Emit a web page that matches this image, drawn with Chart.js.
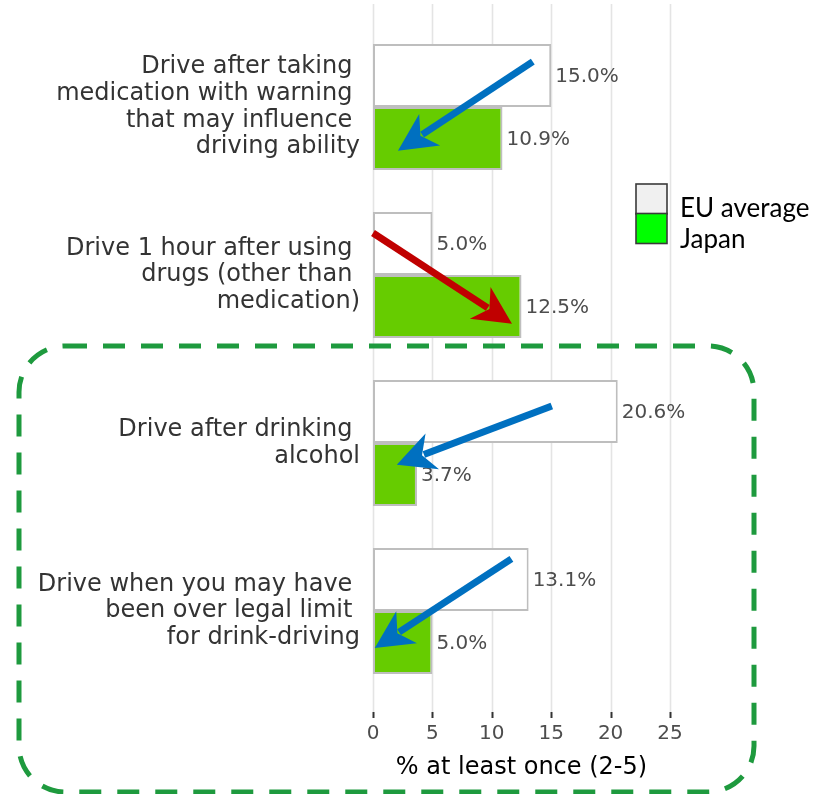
<!DOCTYPE html>
<html>
<head>
<meta charset="utf-8">
<script src="https://cdn.jsdelivr.net/npm/chart.js@4/dist/chart.umd.min.js"></script>
<style>
  html, body { margin: 0; padding: 0; background: #fff; }
  #wrap { width: 813px; height: 794px; }
</style>
</head>
<body>
<div id="wrap"><canvas id="chart" width="813" height="794"></canvas></div>
<script>
// categories, top to bottom (trailing spaces as in the original labels)
const categories = [
  ['Drive after taking ', 'medication with warning ', 'that may influence ', 'driving ability'],
  ['Drive 1 hour after using ', 'drugs (other than ', 'medication)'],
  ['Drive after drinking ', 'alcohol'],
  ['Drive when you may have ', 'been over legal limit ', 'for drink-driving']
];
const seriesNames = ['EU average', 'Japan'];
const euAverage = [15.0, 5.0, 20.6, 13.1];
const japan = [10.9, 12.5, 3.7, 5.0];
const xTicks = [0, 5, 10, 15, 20, 25];

// arrows over the bars, in data units: [x value, category position]
const arrowFrom = [[13.45, -0.27], [0.0, 0.75], [15.05, 1.78], [11.65, 2.69]];
const arrowTo = [[2.1, 0.26], [11.7, 1.29], [2.0, 2.13], [0.15, 3.22]];
const arrowColors = ['#0070c0', '#c00000', '#0070c0', '#0070c0'];

const legendFill = ['#f0f0f0', '#00ff00'];

const gridLines = {
  id: 'gridLines',
  beforeDatasetsDraw(chart) {
    const { ctx, chartArea, scales: { x } } = chart;
    ctx.save();
    x.ticks.forEach(t => {
      const px = Math.round(x.getPixelForValue(t.value)) + 0.5;
      ctx.strokeStyle = '#e4e4e4';
      ctx.lineWidth = 1.6;
      ctx.beginPath();
      ctx.moveTo(px, 4);
      ctx.lineTo(px, chartArea.bottom + 17);
      ctx.stroke();
      ctx.strokeStyle = '#333';
      ctx.lineWidth = 2;
      ctx.beginPath();
      ctx.moveTo(px, chartArea.bottom + 17);
      ctx.lineTo(px, chartArea.bottom + 23);
      ctx.stroke();
    });
    ctx.restore();
  }
};

const valueLabels = {
  id: 'valueLabels',
  afterDatasetsDraw(chart) {
    const { ctx } = chart;
    ctx.save();
    ctx.font = '20px "DejaVu Sans"';
    ctx.fillStyle = '#4d4d4d';
    ctx.textAlign = 'left';
    ctx.textBaseline = 'middle';
    chart.data.datasets.forEach((ds, i) => {
      chart.getDatasetMeta(i).data.forEach((bar, j) => {
        ctx.fillText(ds.data[j].toFixed(1) + '%', bar.x + 4, bar.y + 1.5);
      });
    });
    ctx.restore();
  }
};

function drawArrow(ctx, x1, y1, x2, y2, color) {
  const dx = x2 - x1, dy = y2 - y1;
  const len = Math.hypot(dx, dy);
  const ux = dx / len, uy = dy / len;
  const nx = -uy, ny = ux;
  const back = 38, notch = 27, half = 19;
  ctx.strokeStyle = color;
  ctx.fillStyle = color;
  ctx.lineWidth = 7;
  ctx.lineCap = 'butt';
  ctx.beginPath();
  ctx.moveTo(x1, y1);
  ctx.lineTo(x2 - ux * (notch + 2), y2 - uy * (notch + 2));
  ctx.stroke();
  ctx.beginPath();
  ctx.moveTo(x2, y2);
  ctx.lineTo(x2 - ux * back + nx * half, y2 - uy * back + ny * half);
  ctx.lineTo(x2 - ux * notch, y2 - uy * notch);
  ctx.lineTo(x2 - ux * back - nx * half, y2 - uy * back - ny * half);
  ctx.closePath();
  ctx.fill();
}

const overlay = {
  id: 'overlay',
  afterDraw(chart) {
    const { ctx, scales: { x, y } } = chart;
    ctx.save();
    arrowFrom.forEach((a, i) => {
      const b = arrowTo[i];
      drawArrow(ctx, x.getPixelForValue(a[0]), y.getPixelForValue(a[1]),
        x.getPixelForValue(b[0]), y.getPixelForValue(b[1]), arrowColors[i]);
    });

    // dashed highlight box round the alcohol rows
    ctx.strokeStyle = '#1e9a3e';
    ctx.lineWidth = 5;
    ctx.setLineDash([22, 16]);
    ctx.beginPath();
    ctx.roundRect(19, 346, 735, 446, 46);
    ctx.stroke();
    ctx.setLineDash([]);

    // legend
    ctx.font = '26px Lato';
    ctx.textAlign = 'left';
    ctx.textBaseline = 'alphabetic';
    chart.data.datasets.forEach((ds, i) => {
      const top = 184 + i * 29.5;
      ctx.fillStyle = legendFill[i];
      ctx.fillRect(636, top, 31, 30);
      ctx.strokeStyle = '#3a3a3a';
      ctx.lineWidth = 1.6;
      ctx.strokeRect(636, top, 31, 30);
      ctx.fillStyle = '#000';
      ctx.fillText(ds.label, 680, 217 + i * 31);
    });
    ctx.restore();
  }
};

new Chart(document.getElementById('chart'), {
  type: 'bar',
  data: {
    labels: categories,
    datasets: [
      { label: seriesNames[0], data: euAverage, backgroundColor: '#ffffff', borderColor: '#bebebe', borderWidth: 2, borderSkipped: false },
      { label: seriesNames[1], data: japan, backgroundColor: '#66cc00', borderColor: '#bebebe', borderWidth: 2, borderSkipped: false }
    ]
  },
  options: {
    indexAxis: 'y',
    responsive: false,
    animation: false,
    devicePixelRatio: 1,
    categoryPercentage: 0.75,
    barPercentage: 1.0,
    layout: { padding: { top: 23, right: 143, bottom: 0, left: 0 } },
    scales: {
      x: {
        min: 0,
        max: 25,
        grid: { display: false, drawTicks: false },
        border: { display: false },
        afterBuildTicks: s => { s.ticks = xTicks.map(v => ({ value: v })); },
        ticks: { color: '#4d4d4d', font: { family: 'DejaVu Sans', size: 20 }, padding: 27 },
        title: {
          display: true,
          text: '% at least once (2-5)',
          color: '#000',
          font: { family: 'DejaVu Sans', size: 24 },
          padding: { top: 0, bottom: 12 }
        },
        afterFit: s => { s.height = 99; s.paddingLeft = 0; s.paddingRight = 0; }
      },
      y: {
        grid: { display: false, drawTicks: false },
        border: { display: false },
        ticks: { color: '#333', font: { family: 'DejaVu Sans', size: 24, lineHeight: 1.11 }, padding: 13, autoSkip: false },
        afterFit: s => { s.width = 373; s.paddingTop = 0; s.paddingBottom = 0; }
      }
    },
    plugins: {
      legend: { display: false },
      tooltip: { enabled: false }
    }
  },
  plugins: [gridLines, valueLabels, overlay]
});
</script>
</body>
</html>
